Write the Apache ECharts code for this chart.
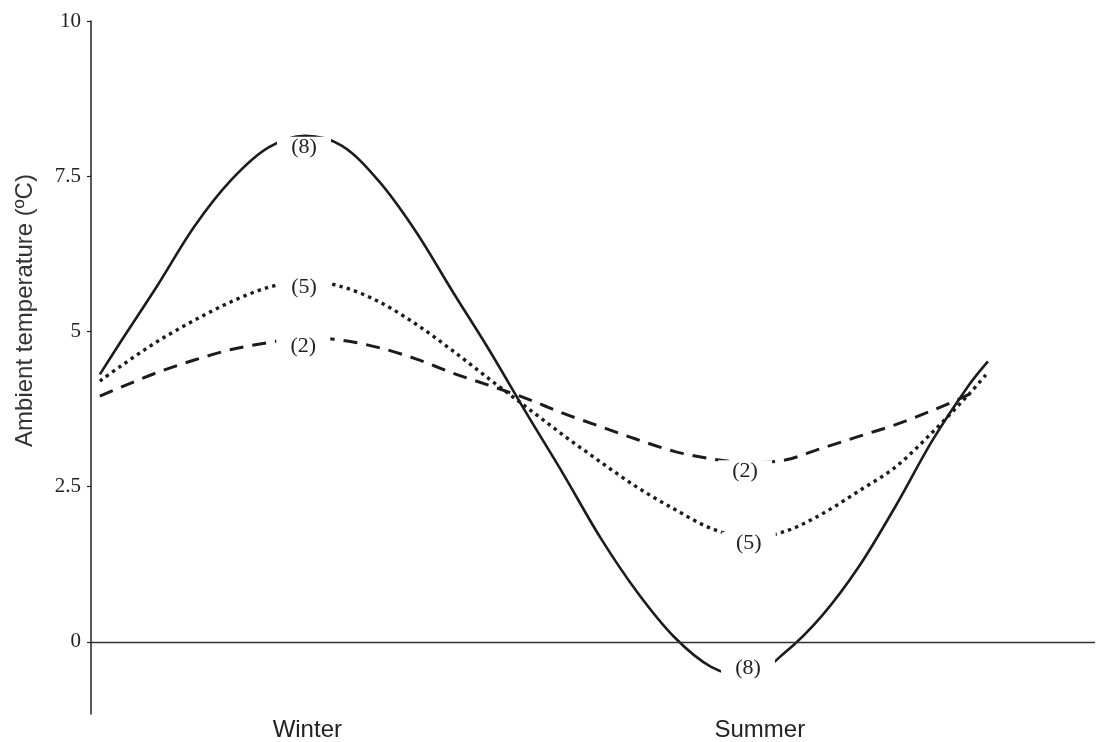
<!DOCTYPE html>
<html>
<head>
<meta charset="utf-8">
<script src="https://cdn.jsdelivr.net/npm/echarts@6/dist/echarts.min.js"></script>
<style>html,body{margin:0;padding:0;background:#fff;}#chart{width:1108px;height:742px;}</style>
</head>
<body>
<div id="chart"></div>
<script>
// x in months (Winter ≈ 3, Summer ≈ 9)
const months = [0.22, 0.5, 1, 1.5, 2, 2.5, 3, 3.5, 4, 4.5, 5, 5.5, 6, 6.5, 7, 7.5, 8, 8.5, 9, 9.5, 10, 10.5, 11, 11.5, 12, 12.25];
const temp8 = [4.31, 4.83, 5.74, 6.69, 7.44, 7.96, 8.15, 7.99, 7.42, 6.61, 5.64, 4.69, 3.68, 2.70, 1.68, 0.80, 0.08, -0.40, -0.56, -0.17, 0.42, 1.21, 2.19, 3.25, 4.15, 4.52];
const temp5 = [4.20, 4.44, 4.84, 5.18, 5.48, 5.71, 5.82, 5.72, 5.48, 5.12, 4.69, 4.23, 3.78, 3.33, 2.90, 2.49, 2.14, 1.83, 1.68, 1.78, 2.06, 2.43, 2.82, 3.38, 4.00, 4.34];
const months2 = [0.22, 0.5, 1, 1.5, 2, 2.5, 3, 3.5, 4, 4.5, 5, 5.5, 6, 6.5, 7, 7.5, 8, 8.5, 9, 9.5, 10, 10.5, 11, 11.5, 12, 12.1];
const temp2 = [3.96, 4.10, 4.34, 4.54, 4.71, 4.82, 4.90, 4.86, 4.74, 4.56, 4.33, 4.13, 3.92, 3.68, 3.47, 3.26, 3.07, 2.95, 2.89, 2.93, 3.12, 3.31, 3.50, 3.73, 3.99, 4.08];

const curveLabels = ['(8)', '(5)', '(2)', '(2)', '(5)', '(8)'];
const labelMonths = [2.985, 2.985, 2.975, 8.96, 9.01, 9.0];
const labelTemps = [7.96, 5.72, 4.76, 2.75, 1.59, -0.42];

const seasonTicks = [3.03, 9.16];
const seasonNames = ['Winter', 'Summer'];
const tempTicks = [0, 2.5, 5, 7.5, 10];

const zip = (xs, ys) => xs.map((x, i) => [x, ys[i]]);
const ink = '#1c1c1c';

const chart = echarts.init(document.getElementById('chart'), null, {renderer: 'canvas'});
chart.setOption({
  animation: false,
  backgroundColor: '#fff',
  grid: {left: 91, right: 13, top: 21, bottom: 27, containLabel: false},
  xAxis: {
    type: 'value', min: 0.1, max: 13.7,
    axisLine: {show: false},
    axisTick: {show: false},
    splitLine: {show: false},
    axisLabel: {
      customValues: seasonTicks,
      formatter: v => seasonNames[seasonTicks.indexOf(v)] || '',
      fontFamily: 'Liberation Sans', fontSize: 24, color: '#222', margin: 4
    }
  },
  yAxis: {
    type: 'value', min: -1.16, max: 10,
    name: 'Ambient temperature (ºC)',
    nameLocation: 'middle', nameGap: 54,
    nameTextStyle: {fontFamily: 'Liberation Sans', fontSize: 24, color: '#333', padding: [0, 0, 0, 114]},
    axisLine: {show: true, lineStyle: {color: '#222', width: 1.5}},
    axisTick: {show: true, customValues: tempTicks, length: 4, lineStyle: {color: '#222', width: 1.2}},
    splitLine: {show: false},
    axisLabel: {
      customValues: tempTicks,
      fontFamily: 'Liberation Serif', fontSize: 21, color: '#222', margin: 10
    }
  },
  series: [
    {
      type: 'line', data: zip(months, temp8), smooth: 0.33, showSymbol: false, symbol: 'none',
      lineStyle: {color: ink, width: 2.6, type: 'solid'},
      markLine: {
        silent: true, symbol: ['none', 'none'], label: {show: false},
        lineStyle: {color: '#333', width: 1.4, type: 'solid'},
        data: [{yAxis: 0}]
      },
      z: 2
    },
    {
      type: 'line', data: zip(months, temp5), smooth: 0.33, showSymbol: false, symbol: 'none',
      lineStyle: {color: ink, width: 3.4, type: [3.4, 4.2], cap: 'butt'},
      z: 2
    },
    {
      type: 'line', data: zip(months2, temp2), smooth: 0.33, showSymbol: false, symbol: 'none',
      lineStyle: {color: ink, width: 3, type: [14, 9], cap: 'butt'},
      z: 2
    },
    {
      type: 'scatter', silent: true, z: 5,
      symbol: 'rect', symbolSize: [54, 22],
      itemStyle: {color: '#fff', opacity: 1},
      label: {
        show: true, position: 'inside', formatter: p => curveLabels[p.dataIndex],
        fontFamily: 'Liberation Serif', fontSize: 22, color: '#222'
      },
      data: zip(labelMonths, labelTemps)
    }
  ]
});
</script>
</body>
</html>
